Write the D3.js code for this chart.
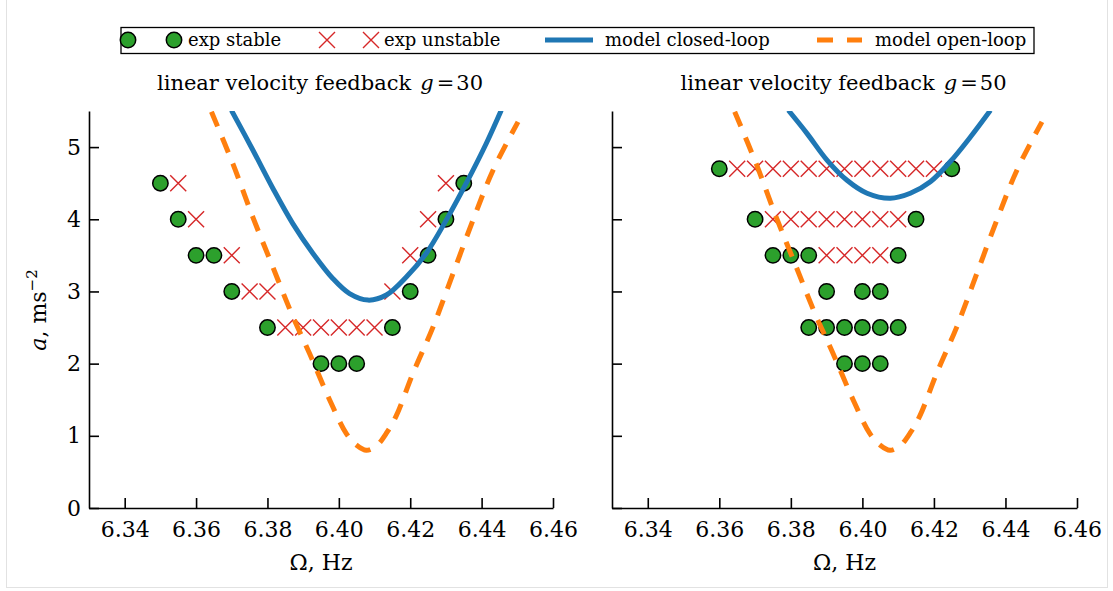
<!DOCTYPE html>
<html>
<head>
<meta charset="utf-8">
<script src="https://cdn.jsdelivr.net/npm/d3@7"></script>
<style>
  body { margin: 0; background: #fff; }
  svg { display: block; font-family: "DejaVu Serif", serif; }
  .tick line, .domain { stroke: #000; stroke-width: 1.6; }
  .tick text { font-size: 22px; fill: #000; font-family: "DejaVu Serif", serif; }
</style>
</head>
<body>
<svg id="chart" width="1113" height="591"></svg>
<script>
// Tick values
var omegaTicks = [6.34, 6.36, 6.38, 6.40, 6.42, 6.44, 6.46];
var aTicks = [0, 1, 2, 3, 4, 5];

// Experiments, g = 30   [omega (Hz), a (m/s^2)]
var stable30 = [
    [6.350, 4.5], [6.355, 4.0], [6.360, 3.5], [6.365, 3.5], [6.370, 3.0], [6.380, 2.5],
    [6.395, 2.0], [6.400, 2.0], [6.405, 2.0], [6.415, 2.5], [6.420, 3.0], [6.425, 3.5],
    [6.430, 4.0], [6.435, 4.5]
];
var unstable30 = [
    [6.355, 4.5], [6.360, 4.0], [6.370, 3.5], [6.375, 3.0], [6.380, 3.0],
    [6.385, 2.5], [6.390, 2.5], [6.395, 2.5], [6.400, 2.5], [6.405, 2.5], [6.410, 2.5],
    [6.415, 3.0], [6.420, 3.5], [6.425, 4.0], [6.430, 4.5]
];

// Experiments, g = 50
var stable50 = [
    [6.360, 4.7], [6.425, 4.7],
    [6.370, 4.0], [6.415, 4.0],
    [6.375, 3.5], [6.380, 3.5], [6.385, 3.5], [6.410, 3.5],
    [6.390, 3.0], [6.400, 3.0], [6.405, 3.0],
    [6.385, 2.5], [6.390, 2.5], [6.395, 2.5], [6.400, 2.5], [6.405, 2.5], [6.410, 2.5],
    [6.395, 2.0], [6.400, 2.0], [6.405, 2.0]
];
var unstable50 = [
    [6.365, 4.7], [6.370, 4.7], [6.375, 4.7], [6.380, 4.7], [6.385, 4.7], [6.390, 4.7],
    [6.395, 4.7], [6.400, 4.7], [6.405, 4.7], [6.410, 4.7], [6.415, 4.7], [6.420, 4.7],
    [6.375, 4.0], [6.380, 4.0], [6.385, 4.0], [6.390, 4.0], [6.395, 4.0], [6.400, 4.0],
    [6.405, 4.0], [6.410, 4.0],
    [6.390, 3.5], [6.395, 3.5], [6.400, 3.5], [6.405, 3.5]
];

// Model curves
var closed30 = [
    [6.3699, 5.51], [6.3759, 4.96], [6.3815, 4.43], [6.3871, 3.94], [6.3927, 3.53],
    [6.3983, 3.18], [6.4030, 2.97], [6.4082, 2.88], [6.4133, 2.95], [6.4189, 3.20],
    [6.4245, 3.53], [6.4301, 3.99], [6.4357, 4.50], [6.4413, 5.05], [6.4455, 5.51]
];
var closed50 = [
    [6.3793, 5.51], [6.3845, 5.19], [6.3901, 4.82], [6.3957, 4.54], [6.4013, 4.36],
    [6.4078, 4.29], [6.4134, 4.36], [6.4190, 4.52], [6.4246, 4.80], [6.4302, 5.14],
    [6.4358, 5.51]
];
var openLoop = [
    [6.3643, 5.49], [6.3703, 4.77], [6.3759, 4.03], [6.3811, 3.39], [6.3867, 2.70],
    [6.3918, 2.14], [6.3974, 1.50], [6.4021, 1.03], [6.4050, 0.87], [6.4077, 0.80],
    [6.4105, 0.86], [6.4135, 1.05], [6.4161, 1.28], [6.4208, 1.87], [6.4264, 2.51],
    [6.4320, 3.25], [6.4376, 3.99], [6.4432, 4.68], [6.4502, 5.35]
];

var titles = ["30", "50"];

// Layout
var panels = [
    {left: 89, right: 553, stable: stable30, unstable: unstable30, closed: closed30, g: titles[0], labels: true},
    {left: 612, right: 1077, stable: stable50, unstable: unstable50, closed: closed50, g: titles[1], labels: false}
];
var p_top = 111;
var p_bot = 508;

var c_green = "#2ca02c", c_red = "#d62728", c_blue = "#1f77b4", c_orange = "#ff7f0e";
var dash = "16,12";

var svg = d3.select("#chart");

// faint frame round the figure
svg.append("rect")
    .attr("x", 6.5).attr("y", -1)
    .attr("width", 1101).attr("height", 588.5)
    .attr("fill", "none").attr("stroke", "#e2e2e2").attr("stroke-width", 1);

function crossPath(s)
{
    return "M" + (-s) + "," + (-s) + "L" + s + "," + s + "M" + (-s) + "," + s + "L" + s + "," + (-s);
}

panels.forEach(function(p, i) {
    var x = d3.scaleLinear().domain([6.33, 6.46]).range([p.left, p.right]);
    var y = d3.scaleLinear().domain([0, 5.5]).range([p_bot, p_top]);
    var g = svg.append("g");

    g.append("clipPath").attr("id", "clip" + i)
        .append("rect")
        .attr("x", p.left).attr("y", p_top)
        .attr("width", p.right - p.left).attr("height", p_bot - p_top);

    // axes
    g.append("g")
        .attr("transform", "translate(0," + p_bot + ")")
        .call(d3.axisBottom(x)
            .tickValues(omegaTicks)
            .tickFormat(d3.format(".2f"))
            .tickSizeInner(-10)
            .tickSizeOuter(0)
            .tickPadding(13));
    var yAxis = d3.axisLeft(y)
        .tickValues(aTicks)
        .tickFormat(d3.format("d"))
        .tickSizeInner(-10)
        .tickSizeOuter(0)
        .tickPadding(8);
    if (!p.labels) yAxis.tickFormat("");
    g.append("g")
        .attr("transform", "translate(" + p.left + ",0)")
        .call(yAxis);

    // data
    var plot = g.append("g").attr("clip-path", "url(#clip" + i + ")");
    plot.selectAll(".stable")
        .data(p.stable)
        .enter()
        .append("circle")
        .attr("cx", d => x(d[0]))
        .attr("cy", d => y(d[1]))
        .attr("r", 7.7)
        .attr("fill", c_green)
        .attr("stroke", "#000")
        .attr("stroke-width", 1.5);
    plot.selectAll(".unstable")
        .data(p.unstable)
        .enter()
        .append("path")
        .attr("transform", d => "translate(" + x(d[0]) + "," + y(d[1]) + ")")
        .attr("d", crossPath(8))
        .attr("stroke", c_red)
        .attr("stroke-width", 1.4)
        .attr("fill", "none");

    var line = d3.line()
        .x(d => x(d[0]))
        .y(d => y(d[1]))
        .curve(d3.curveCatmullRom);
    plot.append("path")
        .attr("d", line(p.closed))
        .attr("fill", "none")
        .attr("stroke", c_blue)
        .attr("stroke-width", 5);
    plot.append("path")
        .attr("d", line(openLoop))
        .attr("fill", "none")
        .attr("stroke", c_orange)
        .attr("stroke-width", 5)
        .attr("stroke-dasharray", dash);

    // title
    var cx = (p.left + p.right) / 2;
    var t = g.append("text")
        .attr("x", cx - 1)
        .attr("y", 90)
        .attr("text-anchor", "middle")
        .attr("font-size", 21);
    t.append("tspan").text("linear velocity feedback");
    t.append("tspan").attr("dx", 9).attr("font-style", "italic").text("g");
    t.append("tspan").attr("dx", 3).text("=");
    t.append("tspan").attr("dx", 2).text(p.g);

    // x label
    g.append("text")
        .attr("x", cx)
        .attr("y", 570)
        .attr("text-anchor", "middle")
        .attr("font-size", 22)
        .text("\u03A9, Hz");
});

// y label
var yl = svg.append("text")
    .attr("transform", "translate(46,310) rotate(-90)")
    .attr("text-anchor", "middle")
    .attr("font-size", 22);
yl.append("tspan").attr("font-style", "italic").text("a");
yl.append("tspan").text(", ms");
yl.append("tspan").attr("dy", -9).attr("font-size", 15).text("\u22122");

// Legend
var legend = svg.append("g");
legend.append("rect")
    .attr("x", 121).attr("y", 27.5)
    .attr("width", 913).attr("height", 26)
    .attr("fill", "#fff").attr("stroke", "#000").attr("stroke-width", 1.3);
var ly = 40;
var items = [
    {x0: 128, x1: 174, tx: 188, type: "circle", label: "exp stable"},
    {x0: 327, x1: 371, tx: 384, type: "cross", label: "exp unstable"},
    {x0: 545, x1: 593, tx: 605, type: "line", label: "model closed-loop"},
    {x0: 817, x1: 862, tx: 875, type: "dash", label: "model open-loop"}
];
items.forEach(function(it) {
    if (it.type === "circle") {
        [it.x0, it.x1].forEach(function(cx) {
            legend.append("circle").attr("cx", cx).attr("cy", ly).attr("r", 7.7)
                .attr("fill", c_green).attr("stroke", "#000").attr("stroke-width", 1.5);
        });
    } else if (it.type === "cross") {
        [it.x0, it.x1].forEach(function(cx) {
            legend.append("path").attr("transform", "translate(" + cx + "," + ly + ")")
                .attr("d", crossPath(8)).attr("stroke", c_red).attr("stroke-width", 1.4);
        });
    } else {
        legend.append("line")
            .attr("x1", it.x0).attr("x2", it.x1).attr("y1", ly).attr("y2", ly)
            .attr("stroke", it.type === "line" ? c_blue : c_orange)
            .attr("stroke-width", 5)
            .attr("stroke-dasharray", it.type === "dash" ? "16,14" : null);
    }
    legend.append("text")
        .attr("x", it.tx).attr("y", ly + 6)
        .attr("font-size", 18)
        .text(it.label);
});
</script>
</body>
</html>
